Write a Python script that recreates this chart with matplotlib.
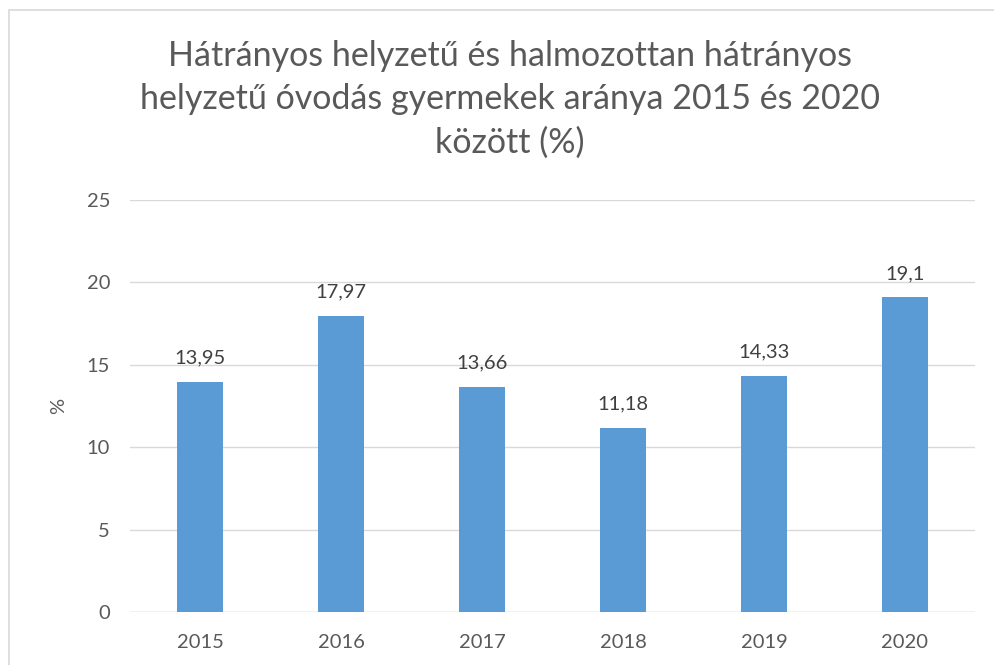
import matplotlib
matplotlib.use("Agg")
import matplotlib.pyplot as plt
from matplotlib.patches import Rectangle

years = ["2015", "2016", "2017", "2018", "2019", "2020"]
values = [13.95, 17.97, 13.66, 11.18, 14.33, 19.1]
labels = ["13,95", "17,97", "13,66", "11,18", "14,33", "19,1"]
yticks = [0, 5, 10, 15, 20, 25]
title_lines = ["Hátrányos helyzetű és halmozottan hátrányos",
               "helyzetű óvodás gyermekek aránya 2015 és 2020",
               "között (%)"]

plt.rcParams['font.family'] = ['Lato', 'DejaVu Sans']
W, H = 994, 665
fig = plt.figure(figsize=(W/100, H/100), dpi=100)
fig.patch.set_facecolor('white')

# chart border
fig.patches.append(Rectangle((9/W, -0.1), 2, 1 - 10/H + 0.1, transform=fig.transFigure,
                             fill=False, edgecolor='#d9d9d9', linewidth=1.2))

left, right = 129.5/W, 975.5/W
bottom, top = 1 - 612/H, 1 - 200/H
ax = fig.add_axes([left, bottom, right - left, top - bottom])

x = range(len(years))
ax.bar(x, values, width=0.32, color='#5b9bd5', zorder=3)
for i, (v, lab) in enumerate(zip(values, labels)):
    ax.annotate(lab, (i, v), xytext=(0, 11), textcoords='offset points',
                ha='center', va='bottom', fontsize=14.5, color='#404040')

ax.set_xlim(-0.5, len(years) - 0.5)
ax.set_ylim(0, 25)
ax.set_yticks(yticks)
ax.set_yticklabels([str(t) for t in yticks])
ax.set_xticks(list(x))
ax.set_xticklabels(years)
ax.yaxis.grid(True, color='#d9d9d9', linewidth=1, zorder=0)
for s in ax.spines.values():
    s.set_visible(False)
ax.tick_params(axis='both', length=0, labelsize=14.5, labelcolor='#595959')
ax.tick_params(axis='y', pad=14)
ax.tick_params(axis='x', pad=16)
ax.axhline(0, color='#d9d9d9', linewidth=1, zorder=2)

fig.text(59/W, 1 - 406/H, "%", rotation=90, ha='center', va='center',
         fontsize=14.5, color='#595959')

for line, base in zip(title_lines, [66, 109, 153]):
    fig.text(510/W, 1 - base/H, line, ha='center', va='baseline', fontsize=24.5,
             color='#595959')

fig.savefig("out.png", dpi=100)
